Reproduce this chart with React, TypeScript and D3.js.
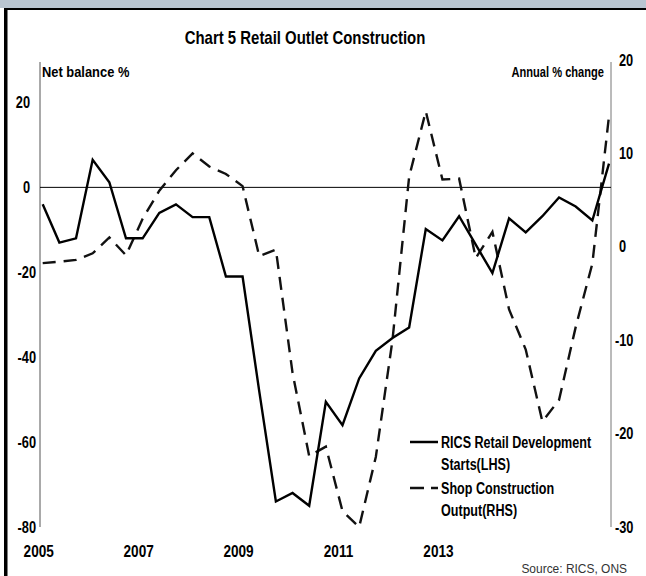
import React from "react";
import * as d3 from "d3";

const categories = [
  "2005Q1","2005Q2","2005Q3","2005Q4","2006Q1","2006Q2","2006Q3","2006Q4",
  "2007Q1","2007Q2","2007Q3","2007Q4","2008Q1","2008Q2","2008Q3","2008Q4",
  "2009Q1","2009Q2","2009Q3","2009Q4","2010Q1","2010Q2","2010Q3","2010Q4",
  "2011Q1","2011Q2","2011Q3","2011Q4","2012Q1","2012Q2","2012Q3","2012Q4",
  "2013Q1","2013Q2","2013Q3"
];

// RICS Retail Development Starts (LHS, net balance %)
const ricsStarts = [
  -4, -13, -12, 6.5, 1.2, -12, -12, -6, -4, -7, -7, -21, -21, -48, -74, -72,
  -75, -50.5, -56, -45, -38.5, -35.5, -33, -9.8, -12.5, -6.8, -13.5, -20.2,
  -7.3, -10.6, -6.8, -2.4, -4.5, -7.8, 5.6
];

// Shop Construction Output (RHS, annual % change)
const shopOutput = [
  -1.75, -1.6, -1.4, -0.7, 1.0, -0.9, 3.0, 6.0, 8.2, 10.0, 8.6, 7.8, 6.5, -1.0,
  -0.3, -13.5, -22.4, -21.4, -28.3, -30, -22.5, -10, 7.5, 14.5, 7.2, 7.3, -1.2,
  1.6, -6.7, -11, -18.7, -16.4, -8.6, -1.8, 14
];

const leftTicks = [20, 0, -20, -40, -60, -80];
const rightTicks = [20, 10, 0, -10, -20, -30];
const xTickCats = ["2005Q1", "2006Q3", "2008Q1", "2009Q3", "2011Q1"];
const xTickLabels = ["2005", "2007", "2009", "2011", "2013"];

const FONT = "'Liberation Sans', Arial, sans-serif";

type TP = {
  x: number; y: number; size: number; sx?: number; anchor?: "start" | "middle" | "end";
  bold?: boolean; fill?: string; dy?: string; children: React.ReactNode;
};
function T({ x, y, size, sx = 0.8, anchor = "start", bold = true, fill = "#000", dy, children }: TP) {
  return (
    <text transform={`translate(${x},${y}) scale(${sx},1)`} textAnchor={anchor} dy={dy}
      fontFamily={FONT} fontWeight={bold ? "bold" : "normal"} fontSize={size} fill={fill}>
      {children}
    </text>
  );
}

export default function App() {
  const W = 646, H = 576;
  const top = 60, bottom = 527, left = 40, right = 611;

  const x = d3.scalePoint<string>().domain(categories).range([42.7, 609]);
  const yL = d3.scaleLinear().domain([-80, 30]).range([bottom, top]);
  const yR = d3.scaleLinear().domain([-30, 20]).range([bottom, top]);

  const lineL = d3.line<number>()
    .x((_, i) => x(categories[i]) as number)
    .y((d) => yL(d));
  const lineR = d3.line<number>()
    .x((_, i) => x(categories[i]) as number)
    .y((d) => yR(d));

  return (
    <svg width={W} height={H} style={{ position: "absolute", left: 0, top: 0, background: "#fff" }}>
      <rect x={0} y={0} width={W} height={H} fill="#fff" />
      <rect x={0} y={0} width={W} height={8} fill="#b9c5d1" />
      <rect x={4} y={8} width={W - 4} height={2} fill="#000" />
      <rect x={4} y={8} width={3.5} height={H - 8} fill="#000" />

      <T x={305} y={44} size={18} sx={0.83} anchor="middle">Chart 5 Retail Outlet Construction</T>
      <T x={42} y={77} size={15} sx={0.86}>Net balance %</T>
      <T x={604} y={77} size={15} sx={0.74} anchor="end">Annual % change</T>

      {/* axes */}
      <line x1={left} x2={left} y1={top + 2} y2={bottom} stroke="#555" strokeWidth={1} />
      <line x1={right} x2={right} y1={top + 2} y2={bottom} stroke="#777" strokeWidth={1} />
      <line x1={left} x2={right} y1={yL(0)} y2={yL(0)} stroke="#000" strokeWidth={1} />

      {leftTicks.map((t) => (
        <T key={"l" + t} x={t >= 0 ? 30 : 36} y={yL(t)} dy="0.35em" anchor="end" size={16} sx={0.8}>{t}</T>
      ))}
      {rightTicks.map((t) => (
        <T key={"r" + t} x={t >= 0 ? 619 : 615} y={yR(t)} dy="0.35em" size={16} sx={0.8}>{t}</T>
      ))}
      {xTickCats.map((c, i) => (
        <T key={c} x={(x(c) as number) - 4} y={557} anchor="middle" size={17} sx={0.8}>{xTickLabels[i]}</T>
      ))}

      <path d={lineR(shopOutput) || ""} fill="none" stroke="#111" strokeWidth={2.4} strokeDasharray="13,8" />
      <path d={lineL(ricsStarts) || ""} fill="none" stroke="#000" strokeWidth={2.4} />

      {/* legend */}
      <line x1={410} x2={438} y1={442} y2={442} stroke="#000" strokeWidth={2.5} />
      <line x1={410} x2={438} y1={488} y2={488} stroke="#111" strokeWidth={2.5} strokeDasharray="14,7" />
      <T x={441} y={448} size={17} sx={0.74}>RICS Retail Development</T>
      <T x={441} y={470} size={17} sx={0.74}>Starts(LHS)</T>
      <T x={441} y={494} size={17} sx={0.74}>Shop Construction</T>
      <T x={441} y={516} size={17} sx={0.74}>Output(RHS)</T>

      <T x={627} y={573} anchor="end" size={13} sx={0.92} bold={false} fill="#333">Source: RICS, ONS</T>
    </svg>
  );
}
